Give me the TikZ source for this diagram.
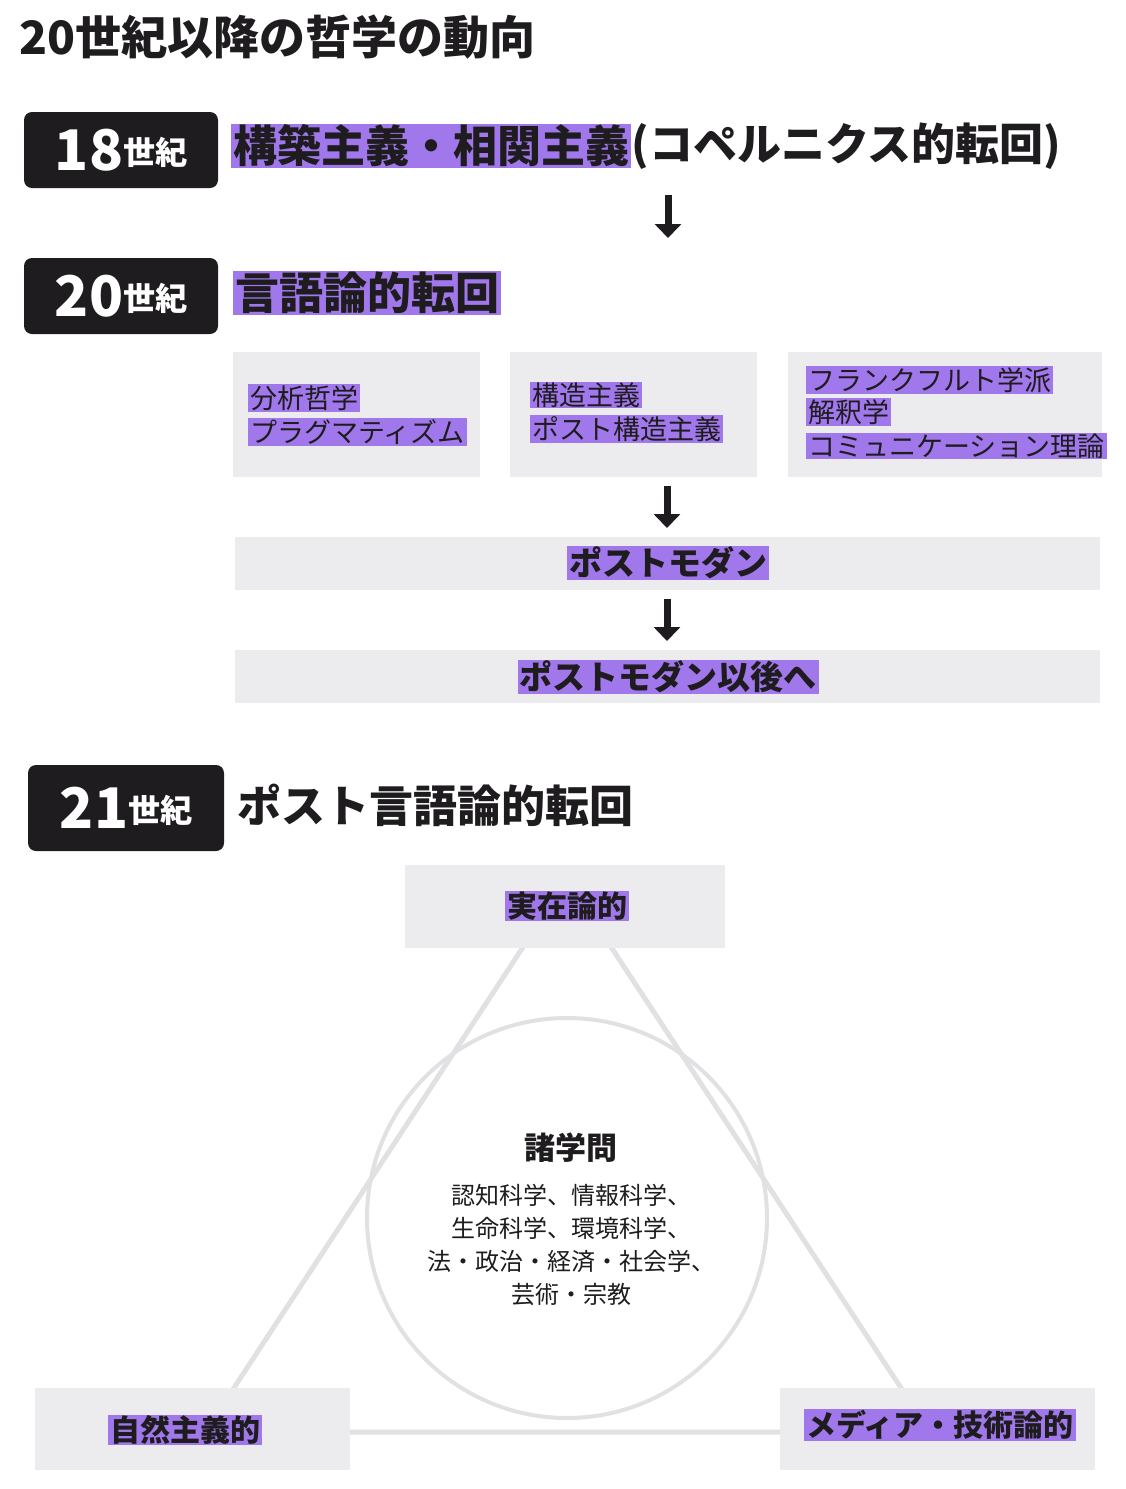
\documentclass[tikz,border=0pt]{standalone}
\usepackage{fontspec}
\setmainfont{Noto Sans CJK JP}
\usetikzlibrary{positioning, arrows.meta}
\definecolor{InkBlack}{RGB}{30, 28, 30}
\definecolor{MarkPurple}{RGB}{160, 120, 235}
\definecolor{PaperGrey}{RGB}{236, 236, 238}
\definecolor{LineGrey}{RGB}{225, 225, 228}
\tikzset{
  era/.style={fill=InkBlack, rounded corners=8pt, minimum width=194pt, minimum height=76pt, text=white, inner sep=0pt},
  hilite/.style={fill=MarkPurple, inner xsep=2pt, inner ysep=1pt, text=InkBlack},
  panel/.style={fill=PaperGrey, draw=none},
  down/.style={-{Triangle[length=14pt,width=26pt]}, line width=7pt, InkBlack},
}
\newcommand{\headtxt}[1]{\fontsize{44}{48}\selectfont\bfseries #1}
\newcommand{\midtxt}[1]{\fontsize{27}{31}\selectfont #1}
\begin{document}
\begin{tikzpicture}[x=1pt, y=-1pt]
    \useasboundingbox (0,0) rectangle (1125,1489);
    % Titel
    \node[anchor=west, text=InkBlack] (title) at (16,37) {\fontsize{46}{50}\selectfont\bfseries 20世紀以降の哲学の動向};

    % 18 Jh.
    \node[era] (e18) at (121,150) {\fontsize{56}{58}\selectfont\bfseries 18\raisebox{6pt}{\fontsize{32}{34}\selectfont 世紀}};
    \node[hilite, anchor=west] (h18) at (231,146) {\headtxt{構築主義・相関主義}};
    \node[anchor=west, inner sep=0pt, text=InkBlack] (h18b) at (h18.east) {\headtxt{(コペルニクス的転回)}};
    \coordinate (a1s) at (668,195);
    \coordinate (a1e) at (668,238);
    \draw[down] (a1s) -- (a1e);

    % 20 Jh.
    \node[era] (e20) at (121,296) {\fontsize{56}{58}\selectfont\bfseries 20\raisebox{6pt}{\fontsize{32}{34}\selectfont 世紀}};
    \node[hilite, anchor=west] (h20) at (233,293) {\headtxt{言語論的転回}};

    \fill[panel] (233,352) rectangle (480,477);
    \fill[panel] (510,352) rectangle (757,477);
    \fill[panel] (788,352) rectangle (1102,477);
    \node[hilite, anchor=west] (p1a) at (248,398) {\midtxt{分析哲学}};
    \node[hilite, anchor=west] (p1b) at (248,432) {\midtxt{プラグマティズム}};
    \node[hilite, anchor=west] (p2a) at (530,395) {\midtxt{構造主義}};
    \node[hilite, anchor=west] (p2b) at (530,429) {\midtxt{ポスト構造主義}};
    \node[hilite, anchor=west] (p3a) at (806,380) {\midtxt{フランクフルト学派}};
    \node[hilite, anchor=west] (p3b) at (806,412) {\midtxt{解釈学}};
    \node[hilite, anchor=west] (p3c) at (806,446) {\midtxt{コミュニケーション理論}};
    \coordinate (a2s) at (667,486);
    \coordinate (a2e) at (667,528);
    \draw[down] (a2s) -- (a2e);

    \fill[panel] (235,537) rectangle (1100,590);
    \node[hilite] (pm) at (668,563) {\fontsize{33}{36}\selectfont\bfseries ポストモダン};
    \coordinate (a3s) at (667,599);
    \coordinate (a3e) at (667,641);
    \draw[down] (a3s) -- (a3e);

    \fill[panel] (235,650) rectangle (1100,703);
    \node[hilite] (ppm) at (668,677) {\fontsize{33}{36}\selectfont\bfseries ポストモダン以後へ};

    % 21 Jh.
    \node[era, minimum width=196pt, minimum height=86pt] (e21) at (126,808) {\fontsize{56}{58}\selectfont\bfseries 21\raisebox{6pt}{\fontsize{32}{34}\selectfont 世紀}};
    \node[anchor=west, text=InkBlack] (h21) at (234,805) {\headtxt{ポスト言語論的転回}};

    % Dreieck und Kreis
    \coordinate (tt) at (567,880);
    \coordinate (tl) at (205,1432);
    \coordinate (tr) at (930,1432);
    \draw[LineGrey, line width=5pt, line join=round] (tt) -- (tl) -- (tr) -- cycle;
    \draw[LineGrey, line width=4pt] (567,1218) circle (200);

    \fill[panel] (405,865) rectangle (725,948);
    \node[hilite] (real) at (567,906) {\fontsize{30}{34}\selectfont\bfseries 実在論的};
    \fill[panel] (35,1388) rectangle (350,1470);
    \node[hilite] (nat) at (185,1430) {\fontsize{30}{34}\selectfont\bfseries 自然主義的};
    \fill[panel] (780,1388) rectangle (1095,1470);
    \node[hilite] (med) at (940,1425) {\fontsize{30}{34}\selectfont\bfseries メディア・技術論的};

    \node[text=InkBlack] (sci) at (571,1148) {\fontsize{31}{34}\selectfont\bfseries 諸学問};
    \node[text=InkBlack, align=center, font=\fontsize{24}{33}\selectfont, below=14pt of sci] (list) {認知科学、情報科学、\\生命科学、環境科学、\\法・政治・経済・社会学、\\芸術・宗教};
\end{tikzpicture}
\end{document}
